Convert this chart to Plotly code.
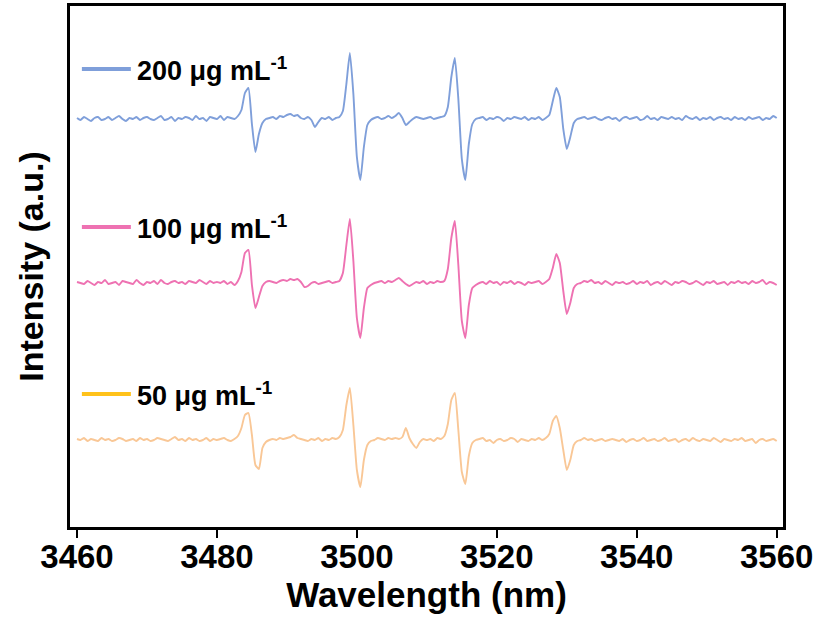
import numpy as np
import plotly.graph_objects as go

# Magnetic field / wavelength grid (nm), 0.5 nm steps
x_start, x_stop, x_step = 3460.0, 3560.0, 0.5
wavelength = np.round(np.arange(x_start, x_stop + x_step / 2, x_step), 2)

series_names = ["200 μg mL<sup>-1</sup>", "100 μg mL<sup>-1</sup>", "50 μg mL<sup>-1</sup>"]

# Signals relative to each baseline (a.u.)
sig_200 = [
    1, -1, 2, 0, -2, 1, 2, -1, 0, 2,
    -1, 1, 3, 0, -2, 1, 0, 2, -1, 1,
    2, 0, -1, 1, 3, -1, 0, 2, -2, 1,
    0, 2, 1, -1, 3, 0, 1, -2, 2, 1,
    0, 3, -1, 2, 1, 0, 3, 9, 26, 31,
    -5, -33, -15, -4, 0, 1, 2, 0, 3, 2,
    4, 5, 3, 4, 1, 0, 2, -1, -8, -3,
    1, 0, 2, -1, 1, 2, 8, 35, 66, 25,
    -38, -61, -28, -6, -1, 1, 2, 0, 1, 3,
    1, 3, 6, 1, -6, -3, 0, 2, 1, 0,
    1, 2, 0, 1, 2, 3, 12, 42, 61, 20,
    -40, -61, -25, -5, 0, 1, 2, -1, 1, 0,
    2, 1, -2, 1, 0, 2, 1, 0, 2, -1,
    1, 0, 2, -1, 1, 4, 18, 31, 22, -10,
    -30, -18, -4, 0, 1, 2, 0, 1, 2, 0,
    -1, 1, 2, 0, 1, -2, 1, 2, 0, 1,
    2, -1, 0, 3, 0, 1, -1, 2, 1, 0,
    2, 0, 1, -1, 3, 1, 0, 2, -1, 1,
    0, 2, -1, 1, 2, 0, 1, -1, 2, 0,
    1, -1, 2, 0, 1, 2, -1, 1, 0, 3,
    1,
]

sig_100 = [
    1, 0, -1, 2, 0, -2, 1, 0, 3, -1,
    0, 1, -2, 2, 1, 0, -1, 3, 0, -2,
    1, 0, 2, -1, 3, 0, -1, 1, 2, 0,
    1, -1, 2, 1, 0, 3, 1, -1, 2, 0,
    1, 0, 2, -1, 1, -2, 2, 11, 30, 33,
    -2, -25, -14, -3, 1, 2, 1, 0, 2, 3,
    2, 4, 3, 4, 1, -4, -3, 0, 1, -1,
    0, 1, 2, 0, 1, 2, 10, 38, 64, 22,
    -35, -55, -25, -5, -2, 0, 1, 2, 0, 2,
    1, 3, 5, 2, -1, -3, -1, 1, 0, 2,
    -1, 1, 0, 2, 1, 2, 14, 45, 62, 18,
    -38, -55, -22, -5, -2, 0, 1, -1, 2, 0,
    1, -2, 1, 0, 2, -1, 1, 0, -2, 1,
    0, 1, 2, -1, 1, 4, 15, 29, 20, -8,
    -31, -20, -5, -1, 0, 2, 1, 3, 0, 1,
    -1, 2, 0, -2, 1, 0, 1, -1, 0, 2,
    -1, 1, 0, 2, -2, 0, 1, -1, 2, 0,
    -2, 1, 0, 2, 1, -1, 0, 2, 0, -2,
    1, 0, 2, -1, 0, 1, -2, 1, 0, 2,
    0, 1, -1, 2, 0, 1, 3, -1, 1, 0,
    -2,
]

sig_50 = [
    1, 0, 2, -1, 1, 0, -1, 2, 0, 1,
    -1, 0, 2, 1, -1, 0, 1, -1, 2, 0,
    1, -1, 0, 2, 1, 0, -1, 1, 3, 0,
    1, -1, 2, 0, 1, -1, 0, 2, -1, 1,
    0, 1, 2, 0, -1, 1, 4, 12, 25, 27,
    5, -25, -29, -8, -2, 0, 1, 0, 2, 1,
    2, 3, 5, 2, 1, 0, -1, 1, 0, 2,
    -1, 1, 0, 2, 1, 3, 10, 35, 52, 15,
    -30, -47, -20, -5, -1, 0, 2, 1, 0, 2,
    1, 2, 1, 3, 12, 2, -4, -8, -2, 1,
    0, 1, -1, 2, 1, 4, 16, 40, 47, 10,
    -32, -44, -16, -3, 0, 1, 2, -1, 0, -3,
    0, 1, -1, 0, 2, 1, -2, 1, 0, -1,
    1, 0, 2, 0, 2, 6, 19, 24, 12, -10,
    -30, -20, -5, -1, 0, 2, 0, 1, -1, 0,
    1, -1, 0, 1, 0, -1, 1, -2, 0, 1,
    -1, 0, 2, -1, 0, 1, -1, 0, 2, -1,
    0, 1, -2, 0, 1, -1, 2, 0, -1, 1,
    0, -1, 2, 0, -2, 1, 0, -1, 1, 0,
    2, -1, 0, 1, -3, 0, 1, -1, 0, 1,
    -1,
]

signals = [sig_200, sig_100, sig_50]
baselines = [408, 244, 87]  # vertical stacking offsets (a.u.)

trace_colors = ["#7F9FDA", "#EE72B2", "#F9C796"]
legend_colors = ["#7F9FDA", "#EE72B2", "#FFC21A"]
label_levels = [458, 300, 133]

x_ticks = [3460, 3480, 3500, 3520, 3540, 3560]

FONT = "Liberation Sans, Arial, sans-serif"

fig = go.Figure()
for sig, base, col, name in zip(signals, baselines, trace_colors, series_names):
    fig.add_trace(go.Scatter(
        x=wavelength, y=np.array(sig) + base, mode="lines",
        line=dict(color=col, width=1.9, shape="spline", smoothing=0.5),
        name=name, showlegend=False, hoverinfo="skip",
    ))

# In-plot labels acting as legend
for name, col, lvl in zip(series_names, legend_colors, label_levels):
    fig.add_shape(type="line", xref="x", yref="y",
                  x0=3460.7, x1=3467.7, y0=lvl, y1=lvl,
                  line=dict(color=col, width=4))
    fig.add_annotation(x=3468.3, y=lvl, xref="x", yref="y", text="<b>" + name + "</b>",
                       showarrow=False, xanchor="left", yanchor="middle",
                       font=dict(family=FONT, size=27, color="black"))

fig.update_layout(
    width=818, height=624,
    margin=dict(l=70, r=35, t=6, b=97),
    plot_bgcolor="white", paper_bgcolor="white",
    font=dict(family=FONT, color="black"),
)
fig.update_xaxes(
    range=[3459.0, 3560.9], tickvals=x_ticks, ticktext=[f"<b>{t}</b>" for t in x_ticks],
    ticks="outside", ticklen=8, tickwidth=2, tickcolor="black",
    ticklabelstandoff=-9,
    showline=True, linewidth=2.5, linecolor="black", mirror=True,
    showgrid=False, zeroline=False, automargin=False,
    tickfont=dict(size=33, family=FONT, color="black"),
    title=dict(text="<b>Wavelength (nm)</b>", standoff=9,
               font=dict(size=35, family=FONT, color="black")),
)
fig.update_yaxes(
    range=[0, 521], showticklabels=False, ticks="",
    showline=True, linewidth=2.5, linecolor="black", mirror=True,
    showgrid=False, zeroline=False, automargin=False,
    title=dict(text="<b>Intensity (a.u.)</b>", standoff=14,
               font=dict(size=34, family=FONT, color="black")),
)

fig.write_html("out.html", config={"displayModeBar": False},
               post_script="document.body.style.margin='0';")
